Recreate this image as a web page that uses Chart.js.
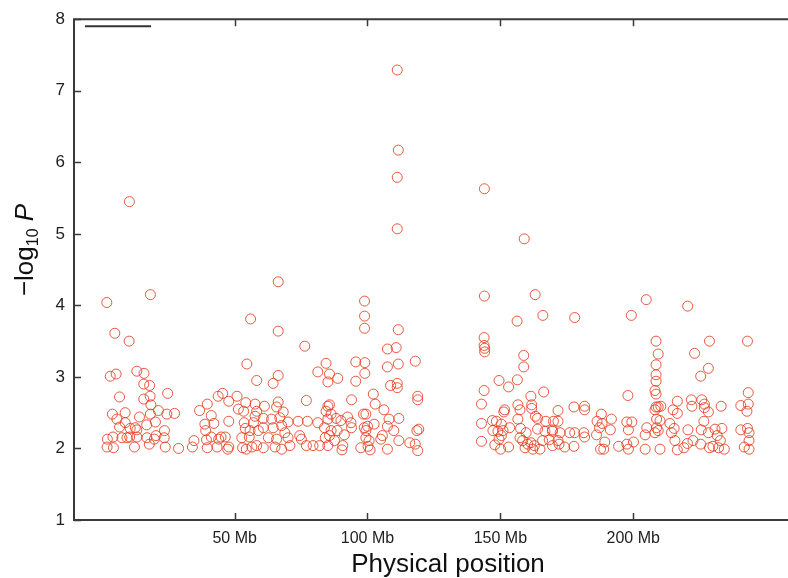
<!DOCTYPE html>
<html>
<head>
<meta charset="utf-8">
<title>-log10 P along chromosome</title>
<script src="https://cdn.jsdelivr.net/npm/chart.js@4.4.1/dist/chart.umd.min.js"></script>
<style>
  html, body { margin: 0; padding: 0; background: #fff; overflow: hidden; }
  canvas { display: block; }
</style>
</head>
<body>
<canvas id="plot" width="788" height="578"></canvas>
<script>
// tick labels
const yTickValues = [1, 2, 3, 4, 5, 6, 7, 8];
const xTickMb = [50, 100, 150, 200];
const xTitle = 'Physical position';

// SNPs as [position in Mb, -log10 P]
const peakSnps = [
  [111.2, 7.29], [111.6, 6.17], [111.2, 5.79], [111.2, 5.07], [10.4, 5.45],
  [1.9, 4.04], [18.3, 4.15], [4.9, 3.61], [56.0, 3.81], [66.4, 4.33],
  [98.9, 4.06], [98.9, 3.85], [98.9, 3.68], [111.6, 3.66], [66.4, 3.64],
  [144.0, 5.63], [159.0, 4.93], [144.0, 4.13], [163.1, 4.15], [156.3, 3.78],
  [166.0, 3.86], [178.0, 3.83], [204.9, 4.08], [199.3, 3.86], [220.5, 3.99]
];

const snpsStart = [
  [10.3, 3.50], [3.2, 3.01], [5.4, 3.04], [13.2, 3.08], [15.9, 3.05], [15.8, 2.90],
  [18.0, 2.88], [6.7, 2.72], [15.8, 2.69], [18.2, 2.73], [18.5, 2.61], [24.8, 2.77],
  [4.0, 2.48], [5.7, 2.41], [8.8, 2.50], [6.7, 2.30], [8.8, 2.36], [10.7, 2.28],
  [12.6, 2.29], [13.2, 2.26], [14.2, 2.44], [16.9, 2.33], [18.3, 2.48], [20.2, 2.37],
  [21.3, 2.53], [24.5, 2.48], [27.4, 2.49], [23.6, 2.25], [2.1, 2.13], [4.2, 2.16],
  [2.0, 2.02], [4.4, 2.01], [7.6, 2.15], [9.5, 2.15], [10.5, 2.16], [13.2, 2.16],
  [12.3, 2.02], [17.0, 2.15], [17.9, 2.06], [19.8, 2.13], [20.4, 2.18], [23.5, 2.15],
  [23.9, 2.02], [28.9, 2.00], [34.1, 2.02], [34.7, 2.11], [36.8, 2.53], [39.7, 2.62],
  [41.2, 2.46], [38.8, 2.34], [42.2, 2.35], [39.1, 2.25], [39.4, 2.12], [39.7, 2.01],
  [41.2, 2.16], [43.4, 2.02], [44.0, 2.13], [44.9, 2.16], [46.5, 2.16], [47.8, 2.38],
  [47.8, 2.02], [43.8, 2.73], [45.5, 2.77], [47.8, 2.66], [50.9, 2.73], [51.4, 2.55],
  [53.4, 2.52], [54.2, 2.64], [54.6, 3.18], [53.6, 2.36], [54.0, 2.28], [52.7, 2.15],
  [55.5, 2.16], [53.0, 2.01], [54.4, 1.99], [47.4, 1.99]
];

const snpsMid = [
  [76.4, 3.43], [107.5, 3.39], [110.8, 3.41], [107.5, 3.14], [111.6, 3.18], [118.0, 3.22],
  [95.6, 3.21], [99.0, 3.20], [84.4, 3.19], [81.3, 3.07], [85.7, 3.04], [88.8, 2.98],
  [85.1, 2.93], [99.0, 3.05], [95.6, 2.94], [108.7, 2.88], [111.2, 2.91], [111.2, 2.85],
  [66.4, 3.02], [64.5, 2.91], [58.3, 2.95], [102.2, 2.76], [77.0, 2.67], [94.0, 2.68],
  [102.9, 2.62], [106.2, 2.54], [118.9, 2.73], [118.9, 2.68], [66.4, 2.65], [57.7, 2.62],
  [61.2, 2.59], [65.8, 2.58], [68.3, 2.51], [58.3, 2.52], [57.7, 2.45], [60.8, 2.42],
  [63.9, 2.41], [67.0, 2.43], [70.1, 2.37], [67.7, 2.32], [64.5, 2.29], [60.8, 2.29],
  [57.1, 2.36], [55.8, 2.25], [58.9, 2.25], [68.9, 2.22], [62.7, 2.15], [65.8, 2.13],
  [70.1, 2.15], [58.3, 2.04], [60.8, 2.01], [65.2, 2.02], [67.7, 1.99], [70.8, 2.04],
  [56.5, 2.02], [73.9, 2.38], [77.4, 2.38], [74.5, 2.18], [75.1, 2.13], [77.0, 2.04],
  [79.5, 2.04], [82.0, 2.04], [81.3, 2.36], [85.1, 2.59], [85.7, 2.61], [84.4, 2.52],
  [86.3, 2.48], [85.1, 2.41], [88.2, 2.42], [90.0, 2.39], [92.5, 2.44], [83.8, 2.29],
  [86.3, 2.25], [88.6, 2.25], [85.7, 2.18], [84.1, 2.15], [87.6, 2.11], [85.1, 2.04],
  [90.7, 2.04], [90.4, 1.98], [91.3, 2.19], [93.8, 2.36], [94.0, 2.29], [98.5, 2.48],
  [99.4, 2.48], [98.8, 2.29], [100.0, 2.31], [99.4, 2.25], [99.4, 2.15], [100.6, 2.11],
  [97.5, 2.01], [100.2, 2.03], [101.0, 1.98], [102.5, 2.34], [105.0, 2.13], [105.6, 2.18],
  [107.5, 1.99], [108.1, 2.41], [107.5, 2.31], [109.9, 2.25], [111.8, 2.42], [111.8, 2.11],
  [115.9, 2.08], [118.0, 2.06], [118.6, 2.25], [118.9, 1.97], [119.3, 2.27]
];

const snpsQArm = [
  [143.9, 3.55], [143.9, 3.44], [144.1, 3.40], [144.1, 3.35], [158.8, 3.30], [158.8, 3.14],
  [149.5, 2.95], [153.1, 2.86], [156.4, 2.96], [143.9, 2.81], [161.5, 2.73], [166.3, 2.79],
  [142.9, 2.62], [156.6, 2.61], [157.4, 2.54], [161.8, 2.61], [161.8, 2.56], [151.6, 2.54],
  [151.3, 2.51], [163.2, 2.45], [164.0, 2.42], [171.7, 2.53], [177.7, 2.58], [181.7, 2.59],
  [181.7, 2.54], [156.6, 2.41], [147.0, 2.39], [148.5, 2.38], [167.1, 2.38], [170.0, 2.38],
  [171.7, 2.38], [142.9, 2.35], [150.4, 2.34], [153.5, 2.29], [157.6, 2.28], [164.0, 2.27],
  [166.8, 2.24], [169.6, 2.26], [169.6, 2.24], [172.5, 2.22], [176.1, 2.22], [178.0, 2.22],
  [181.4, 2.22], [181.7, 2.16], [186.2, 2.19], [147.2, 2.25], [149.1, 2.24], [151.0, 2.25],
  [150.4, 2.18], [149.5, 2.13], [159.7, 2.22], [157.4, 2.15], [142.9, 2.10], [147.9, 2.05],
  [150.1, 1.99], [153.1, 2.02], [158.4, 2.11], [160.3, 2.06], [161.5, 2.08], [162.8, 2.04],
  [159.3, 2.01], [162.2, 1.99], [164.9, 1.99], [165.9, 2.11], [168.4, 2.12], [169.6, 2.04],
  [171.7, 2.11], [172.1, 2.06], [174.2, 2.02], [177.7, 2.03], [186.4, 2.38]
];

const snpsEnd = [
  [208.6, 3.50], [209.4, 3.32], [208.6, 3.17], [208.6, 3.03], [208.6, 2.94], [208.2, 2.81],
  [208.6, 2.76], [228.7, 3.50], [243.0, 3.50], [223.1, 3.33], [228.3, 3.12], [225.4, 3.01],
  [198.0, 2.74], [243.3, 2.78], [208.6, 2.58], [209.4, 2.58], [210.4, 2.59], [208.2, 2.54],
  [216.6, 2.66], [221.9, 2.68], [225.8, 2.68], [226.8, 2.62], [222.1, 2.59], [215.0, 2.54],
  [216.6, 2.49], [226.8, 2.57], [228.3, 2.51], [233.1, 2.59], [240.5, 2.60], [243.3, 2.62],
  [242.8, 2.52], [188.0, 2.48], [191.8, 2.41], [188.3, 2.35], [187.3, 2.29], [197.6, 2.37],
  [199.5, 2.37], [191.4, 2.26], [198.2, 2.26], [205.1, 2.29], [208.8, 2.41], [210.1, 2.39],
  [208.8, 2.29], [208.2, 2.22], [209.4, 2.25], [204.5, 2.19], [213.8, 2.35], [215.4, 2.28],
  [214.4, 2.22], [220.6, 2.26], [226.6, 2.38], [225.6, 2.26], [228.3, 2.22], [230.8, 2.27],
  [233.4, 2.28], [231.6, 2.18], [232.8, 2.11], [240.5, 2.26], [243.0, 2.28], [243.6, 2.22],
  [243.6, 2.11], [189.3, 2.09], [187.7, 1.99], [188.9, 1.99], [194.5, 2.03], [197.6, 2.06],
  [198.2, 1.99], [200.1, 2.09], [204.5, 1.99], [210.1, 1.99], [215.7, 2.11], [216.6, 1.98],
  [219.1, 2.01], [220.4, 2.07], [222.5, 2.11], [225.4, 2.06], [228.7, 2.01], [230.0, 2.03],
  [232.1, 2.01], [234.3, 1.99], [241.8, 2.02], [243.6, 1.99]
];

const allSnps = [].concat(peakSnps, snpsStart, snpsMid, snpsQArm, snpsEnd)
  .map(([x, y]) => ({ x: x, y: y }));

const FONT = "'Liberation Sans', Arial, Helvetica, sans-serif";
const AXIS_COLOR = '#3a3a3a';

// frame, inner ticks, the short line top-left and both axis titles
const framePlugin = {
  id: 'frame',
  afterDraw(chart) {
    const ctx = chart.ctx;
    const a = chart.chartArea;
    const xs = chart.scales.x, ys = chart.scales.y;
    ctx.save();
    ctx.strokeStyle = AXIS_COLOR;
    ctx.lineWidth = 2;
    ctx.beginPath();
    ctx.moveTo(chart.width, a.top);
    ctx.lineTo(a.left, a.top);
    ctx.lineTo(a.left, a.bottom);
    ctx.lineTo(chart.width, a.bottom);
    ctx.stroke();

    ctx.lineWidth = 1.5;
    ctx.beginPath();
    yTickValues.forEach(v => {
      const py = Math.round(ys.getPixelForValue(v)) + 0.5;
      ctx.moveTo(a.left, py);
      ctx.lineTo(a.left + 7, py);
    });
    xTickMb.forEach(v => {
      const px = Math.round(xs.getPixelForValue(v)) + 0.5;
      ctx.moveTo(px, a.bottom);
      ctx.lineTo(px, a.bottom - 7);
      ctx.moveTo(px, a.top);
      ctx.lineTo(px, a.top + 7);
    });
    ctx.stroke();

    // short dark line in the top-left corner
    ctx.strokeStyle = '#333';
    ctx.lineWidth = 2;
    ctx.beginPath();
    ctx.moveTo(a.left + 11, a.top + 7);
    ctx.lineTo(a.left + 77, a.top + 7);
    ctx.stroke();

    // x title
    ctx.fillStyle = '#111';
    ctx.font = '26px ' + FONT;
    ctx.textAlign = 'center';
    ctx.textBaseline = 'middle';
    ctx.fillText(xTitle, 448, 565);

    // y title: −log10 P, with subscript and italic P
    ctx.translate(26, 250);
    ctx.rotate(-Math.PI / 2);
    ctx.textAlign = 'left';
    const big = '26px ' + FONT, small = '16px ' + FONT, ital = 'italic 26px ' + FONT;
    ctx.font = big; const w1 = ctx.measureText('\u2212log').width;
    ctx.font = small; const w2 = ctx.measureText('10').width;
    ctx.font = ital; const w3 = ctx.measureText(' P').width;
    let x0 = -(w1 + w2 + w3) / 2;
    ctx.font = big; ctx.fillText('\u2212log', x0, 0); x0 += w1;
    ctx.font = small; ctx.fillText('10', x0, 8); x0 += w2;
    ctx.font = ital; ctx.fillText(' P', x0, 0);
    ctx.restore();
  }
};

new Chart(document.getElementById('plot').getContext('2d'), {
  type: 'scatter',
  data: {
    datasets: [{
      data: allSnps,
      pointStyle: 'circle',
      pointRadius: 5,
      pointHoverRadius: 5,
      borderWidth: 1,
      borderColor: 'rgba(230, 60, 30, 0.85)',
      backgroundColor: 'rgba(0, 0, 0, 0)'
    }]
  },
  options: {
    responsive: false,
    animation: false,
    layout: { padding: { top: 14, right: 0, left: 0, bottom: 0 } },
    plugins: { legend: { display: false }, tooltip: { enabled: false } },
    scales: {
      x: {
        type: 'linear',
        min: -10.45,
        max: 256,
        grid: { display: false, drawTicks: false },
        border: { display: false },
        afterBuildTicks: s => { s.ticks = xTickMb.map(v => ({ value: v })); },
        afterFit: s => { s.height = 58; },
        ticks: {
          padding: 9,
          color: '#222',
          font: { family: FONT, size: 16 },
          callback: v => v + ' Mb'
        }
      },
      y: {
        min: 1,
        max: 8,
        grid: { display: false, drawTicks: false },
        border: { display: false },
        afterBuildTicks: s => { s.ticks = yTickValues.map(v => ({ value: v })); },
        afterFit: s => { s.width = 74; },
        ticks: {
          padding: 9,
          color: '#222',
          font: { family: FONT, size: 17 }
        }
      }
    }
  },
  plugins: [framePlugin]
});
</script>
</body>
</html>
